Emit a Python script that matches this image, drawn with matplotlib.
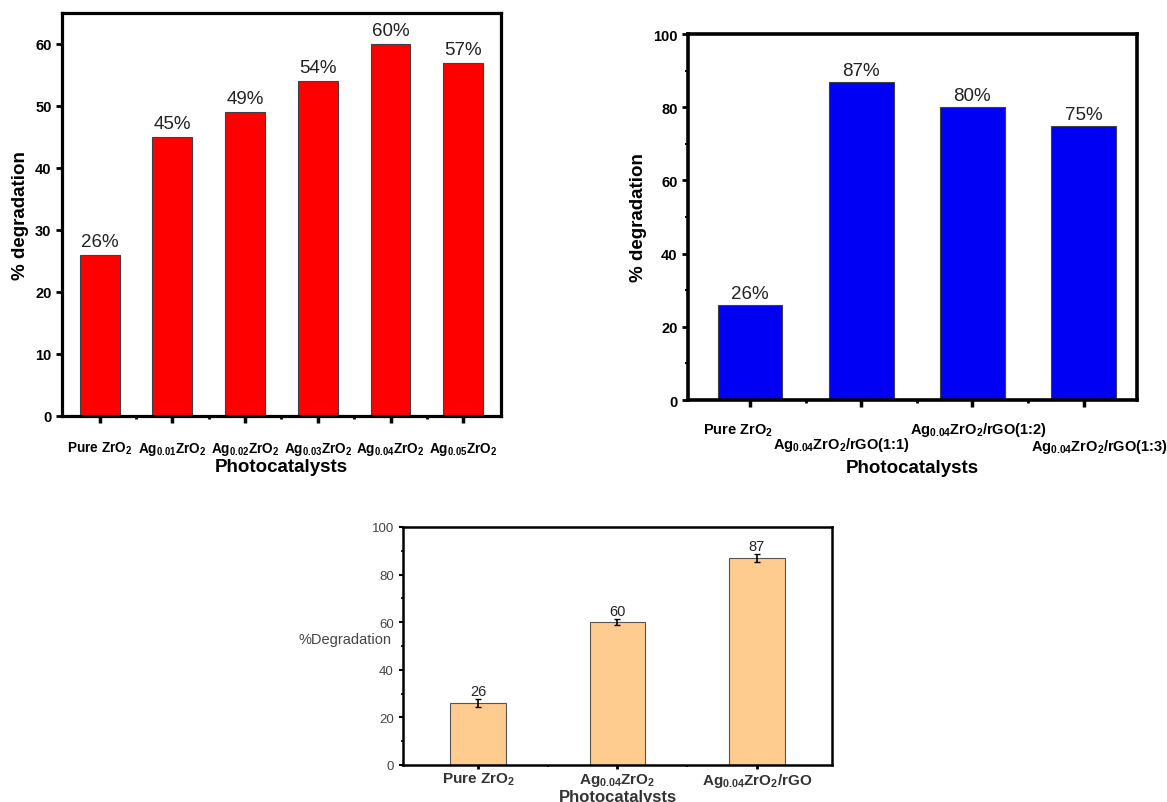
import matplotlib.pyplot as plt
import numpy as np
from matplotlib.ticker import MultipleLocator, FixedLocator
from matplotlib.transforms import ScaledTranslation

plt.rcParams["font.family"] = ["Liberation Sans", "DejaVu Sans"]
plt.rcParams["mathtext.fontset"] = "custom"
plt.rcParams["mathtext.rm"] = "Liberation Sans:bold"
plt.rcParams["mathtext.it"] = "Liberation Sans:bold"
plt.rcParams["mathtext.bf"] = "Liberation Sans:bold"

# panel 1 : Ag doped ZrO2
cats1 = ['Pure ZrO$_2$', 'Ag$_{0.01}$ZrO$_2$', 'Ag$_{0.02}$ZrO$_2$',
         'Ag$_{0.03}$ZrO$_2$', 'Ag$_{0.04}$ZrO$_2$', 'Ag$_{0.05}$ZrO$_2$']
vals1 = [26, 45, 49, 54, 60, 57]

# panel 2 : Ag0.04ZrO2/rGO ratios
cats2 = ['Pure ZrO$_2$', 'Ag$_{0.04}$ZrO$_2$/rGO(1:1)',
         'Ag$_{0.04}$ZrO$_2$/rGO(1:2)', 'Ag$_{0.04}$ZrO$_2$/rGO(1:3)']
vals2 = [26, 87, 80, 75]

# panel 3 : comparison with error bars
cats3 = ['Pure ZrO$_2$', 'Ag$_{0.04}$ZrO$_2$', 'Ag$_{0.04}$ZrO$_2$/rGO']
vals3 = [26, 60, 87]
errs3 = [1.8, 1.3, 1.8]

fig = plt.figure(figsize=(11.67, 8.03), dpi=100)
fig.patch.set_facecolor('white')


def style_axes(ax, lw):
    for s in ax.spines.values():
        s.set_linewidth(lw)
        s.set_color('black')


# ---------------- panel 1
ax1 = fig.add_axes([0.0531, 0.4807, 0.3762, 0.5019])
x1 = np.arange(len(vals1))
ax1.bar(x1, vals1, width=0.55, color='#FF0000', edgecolor='#404040', linewidth=0.8)
for xi, v in zip(x1, vals1):
    ax1.text(xi, v + 0.8, '%d%%' % v, ha='center', va='bottom', fontsize=13.5, color='#222222')
ax1.set_xlim(-0.52, 5.52)
ax1.set_ylim(0, 65)
ax1.yaxis.set_major_locator(FixedLocator([0, 10, 20, 30, 40, 50, 60]))
ax1.set_xticks(x1)
ax1.xaxis.set_minor_locator(FixedLocator(x1[:-1] + 0.5))
ax1.set_xticklabels(cats1, fontsize=9.8, fontweight='bold')
ax1.tick_params(axis='x', which='major', length=5, width=2.5, pad=12)
ax1.tick_params(axis='x', which='minor', length=2, width=2)
ax1.tick_params(axis='y', which='major', length=4, width=2, labelsize=10.5)
for lab in ax1.get_yticklabels():
    lab.set_fontweight('bold')
ax1.set_xlabel('Photocatalysts', fontsize=13.5, fontweight='bold', labelpad=1)
ax1.set_ylabel('% degradation', fontsize=13.5, fontweight='bold', labelpad=4)
style_axes(ax1, 2.3)

# ---------------- panel 2
ax2 = fig.add_axes([0.5895, 0.5006, 0.3847, 0.4558])
x2 = np.arange(len(vals2))
ax2.bar(x2, vals2, width=0.58, color='#0000F5', edgecolor='#404040', linewidth=0.8)
for xi, v in zip(x2, vals2):
    ax2.text(xi, v + 0.8, '%d%%' % v, ha='center', va='bottom', fontsize=13.5, color='#222222')
ax2.set_xlim(-0.56, 3.48)
ax2.set_ylim(0, 100)
ax2.yaxis.set_major_locator(MultipleLocator(20))
ax2.yaxis.set_minor_locator(MultipleLocator(10))
ax2.set_xticks(x2)
ax2.xaxis.set_minor_locator(FixedLocator(x2[:-1] + 0.5))
ax2.set_xticklabels([])
# staggered category labels: (x shift in px, y in axes fraction)
place2 = [(-12, -0.082), (-20, -0.120), (6, -0.079), (16, -0.126)]
for xi, lab, (dx, yy) in zip(x2, cats2, place2):
    tr = ax2.get_xaxis_transform() + ScaledTranslation(dx / 100, 0, fig.dpi_scale_trans)
    ax2.text(xi, yy, lab, transform=tr, ha='center', va='center',
             fontsize=10.5, fontweight='bold', clip_on=False)
ax2.tick_params(axis='x', which='major', length=5, width=2.5)
ax2.tick_params(axis='x', which='minor', length=2, width=2)
ax2.tick_params(axis='y', which='major', length=4, width=2, labelsize=10.5)
ax2.tick_params(axis='y', which='minor', length=2, width=1.5)
for lab in ax2.get_yticklabels():
    lab.set_fontweight('bold')
ax2.set_xlabel('Photocatalysts', fontsize=13.5, fontweight='bold')
ax2.xaxis.set_label_coords(0.5, -0.16)
ax2.set_ylabel('% degradation', fontsize=13.5, fontweight='bold', labelpad=4)
style_axes(ax2, 2.6)

# ---------------- panel 3
ax3 = fig.add_axes([0.3453, 0.0461, 0.3676, 0.2964])
x3 = np.arange(len(vals3))
ax3.bar(x3, vals3, width=0.4, color='#FFCC8F', edgecolor='#555555', linewidth=0.8,
        yerr=errs3, capsize=2.5, error_kw={'elinewidth': 1.2, 'capthick': 1.0, 'ecolor': 'black'})
for xi, v, e in zip(x3, vals3, errs3):
    ax3.text(xi, v + e + 0.3, '%d' % v, ha='center', va='bottom', fontsize=10.5, color='#222222')
ax3.set_xlim(-0.54, 2.54)
ax3.set_ylim(0, 100)
ax3.yaxis.set_major_locator(MultipleLocator(20))
ax3.yaxis.set_minor_locator(MultipleLocator(10))
ax3.set_xticks(x3)
ax3.xaxis.set_minor_locator(FixedLocator(x3[:-1] + 0.5))
ax3.set_xticklabels(cats3, fontsize=11, fontweight='bold', color='#333333')
ax3.tick_params(axis='x', which='major', length=3, width=2, pad=1)
ax3.tick_params(axis='x', which='minor', length=1.5, width=1.5)
ax3.tick_params(axis='y', which='major', length=3, width=1.5, labelsize=9.5, labelcolor='#444444')
ax3.tick_params(axis='y', which='minor', length=1.5, width=1.2)
ax3.set_xlabel('Photocatalysts', fontsize=12, fontweight='bold', color='#333333', labelpad=0.5)
ax3.set_ylabel('%Degradation', fontsize=10.5, color='#444444', rotation=0, labelpad=0)
ax3.yaxis.set_label_coords(-0.135, 0.5)
style_axes(ax3, 1.8)

fig.savefig('out.png', dpi=100)
